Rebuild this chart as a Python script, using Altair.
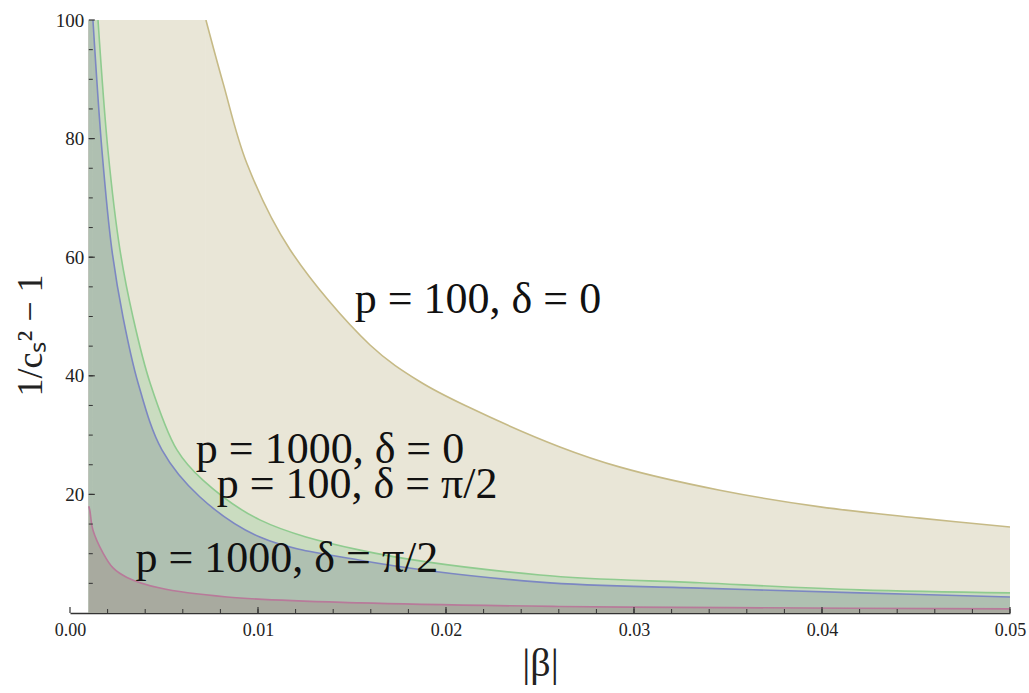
import altair as alt
import pandas as pd

# ---- data ----
BETA_MIN = 0.001   # left edge of the plotted region
Y_TOP = 100        # upper limit of the plot

# p = 100, delta = 0
A_beta = [0.00723, 0.00814, 0.00941, 0.0117, 0.01596, 0.01862, 0.02128, 0.02606, 0.02926, 0.03457, 0.0399, 0.0452, 0.05]
A_y = [100, 89.4, 75.8, 61.3, 45.2, 39.0, 34.6, 28.0, 24.6, 20.7, 17.9, 16.0, 14.5]

# p = 1000, delta = 0
B_beta = [0.00149, 0.00202, 0.00266, 0.00335, 0.00426, 0.00569, 0.00707, 0.0101, 0.01543, 0.025, 0.0335, 0.042, 0.05]
B_y = [100, 78, 61.2, 49.9, 38.8, 27.5, 22.4, 15.7, 10.6, 6.4, 5.1, 3.9, 3.4]

# p = 100, delta = pi/2
C_beta = [0.00122, 0.0017, 0.00223, 0.00282, 0.00362, 0.00489, 0.0069, 0.0101, 0.01543, 0.025, 0.0335, 0.042, 0.05]
C_y = [100, 78, 61.2, 49.9, 38.8, 27.5, 19.6, 12.8, 8.9, 5.2, 4.2, 3.4, 2.7]

# p = 1000, delta = pi/2
D_beta = [0.001, 0.00106, 0.00122, 0.00176, 0.00229, 0.00303, 0.00479, 0.00835, 0.01543, 0.026, 0.035, 0.05]
D_y = [18.0, 17.2, 14.0, 10.1, 7.6, 6.0, 4.2, 2.7, 1.7, 1.1, 0.9, 0.7]

labels = ["p = 100, δ = 0", "p = 1000, δ = 0", "p = 100, δ = π/2", "p = 1000, δ = π/2"]
label_beta = [0.0217, 0.01383, 0.01527, 0.01154]
label_y = [50.6, 25.3, 19.4, 6.9]

x_tick_labels = [0.0, 0.01, 0.02, 0.03, 0.04, 0.05]
x_minor = [round(0.002 * i, 3) for i in range(1, 26)]
y_tick_labels = [20, 40, 60, 80, 100]
y_minor = [5 * i for i in range(1, 20)]

fills = ["#E9E6D7", "#CADCC0", "#AFC0B1", "#A8AA9F"]
strokes = ["#C6BA86", "#8FCB8F", "#7C87C2", "#B87A9A"]

W, H = 940, 593
X_DOMAIN = [0, 0.05]
Y_DOMAIN = [0, 100]

xs = alt.Scale(domain=X_DOMAIN, nice=False, zero=False)
ys = alt.Scale(domain=Y_DOMAIN, nice=False)

FONT = "Liberation Serif"
INTERP = "catmull-rom"

curves = [(A_beta, A_y), (B_beta, B_y), (C_beta, C_y), (D_beta, D_y)]

# base layer carrying the axes
axis_base = alt.Chart(pd.DataFrame({"beta": X_DOMAIN, "y": Y_DOMAIN})).mark_point(opacity=0).encode(
    x=alt.X("beta:Q", scale=xs, axis=alt.Axis(
        values=x_tick_labels, format=".2f", ticks=False, grid=False, labelFlush=False,
        domainColor="#333333", domainWidth=1.3,
        labelFont=FONT, labelFontSize=18, labelColor="#222222", labelPadding=8,
        title="|β|", titleFont=FONT, titleFontSize=40, titleFontWeight="normal",
        titleColor="#222222", titlePadding=4)),
    y=alt.Y("y:Q", scale=ys, axis=alt.Axis(
        values=y_tick_labels, ticks=False, grid=False, offset=-W * BETA_MIN / 0.05,
        labelFlush=False,
        domainColor="#333333", domainWidth=1.3,
        labelFont=FONT, labelFontSize=19, labelColor="#222222", labelPadding=5,
        title="1/cₛ² − 1", titleFont=FONT, titleFontSize=36, titleFontWeight="normal",
        titleColor="#222222", titlePadding=6, titleY=315)),
)

layers = []
for (b, y), f in zip(curves, fills):
    if y[0] >= Y_TOP:
        # region that is above the plot's top between the left edge and the crossing
        layers.append(alt.Chart(pd.DataFrame({"b0": [BETA_MIN], "b1": [b[0]], "y0": [0], "y1": [Y_TOP]})).mark_rect(color=f).encode(
            x=alt.X("b0:Q", scale=xs), x2="b1:Q", y=alt.Y("y0:Q", scale=ys), y2="y1:Q"))
    layers.append(alt.Chart(pd.DataFrame({"beta": b, "y": y})).mark_area(color=f, interpolate=INTERP, clip=True).encode(
        x=alt.X("beta:Q", scale=xs), y=alt.Y("y:Q", scale=ys)))
for (b, y), s in zip(curves, strokes):
    layers.append(alt.Chart(pd.DataFrame({"beta": b, "y": y})).mark_line(color=s, strokeWidth=1.6, interpolate=INTERP, clip=True).encode(
        x=alt.X("beta:Q", scale=xs), y=alt.Y("y:Q", scale=ys)))

# inward ticks
xt_major = alt.Chart(pd.DataFrame({"v": x_tick_labels})).mark_rule(color="#333333", strokeWidth=1.2, y2Offset=-6).encode(
    x=alt.X("v:Q", scale=xs), y=alt.datum(0), y2=alt.datum(0))
xt_minor = alt.Chart(pd.DataFrame({"v": x_minor})).mark_rule(color="#333333", strokeWidth=1.0, y2Offset=-4).encode(
    x=alt.X("v:Q", scale=xs), y=alt.datum(0), y2=alt.datum(0))
yt_major = alt.Chart(pd.DataFrame({"v": y_tick_labels})).mark_rule(color="#333333", strokeWidth=1.2, x2Offset=6).encode(
    y=alt.Y("v:Q", scale=ys), x=alt.datum(BETA_MIN), x2=alt.datum(BETA_MIN))
yt_minor = alt.Chart(pd.DataFrame({"v": y_minor})).mark_rule(color="#333333", strokeWidth=1.0, x2Offset=4).encode(
    y=alt.Y("v:Q", scale=ys), x=alt.datum(BETA_MIN), x2=alt.datum(BETA_MIN))

text = alt.Chart(pd.DataFrame({"label": labels, "beta": label_beta, "y": label_y})).mark_text(
    align="center", baseline="alphabetic", font=FONT, fontSize=44, color="#111111").encode(
    x=alt.X("beta:Q", scale=xs), y=alt.Y("y:Q", scale=ys), text="label:N")

chart = alt.layer(axis_base, *layers, xt_minor, xt_major, yt_minor, yt_major, text).properties(
    width=W, height=H,
    padding={"left": 70, "top": 20, "right": 19, "bottom": 80},
    autosize=alt.AutoSizeParams(type="none"),
    background="white",
).configure_view(stroke=None)

chart.save("out.html", embed_options={"renderer": "svg", "actions": False})
